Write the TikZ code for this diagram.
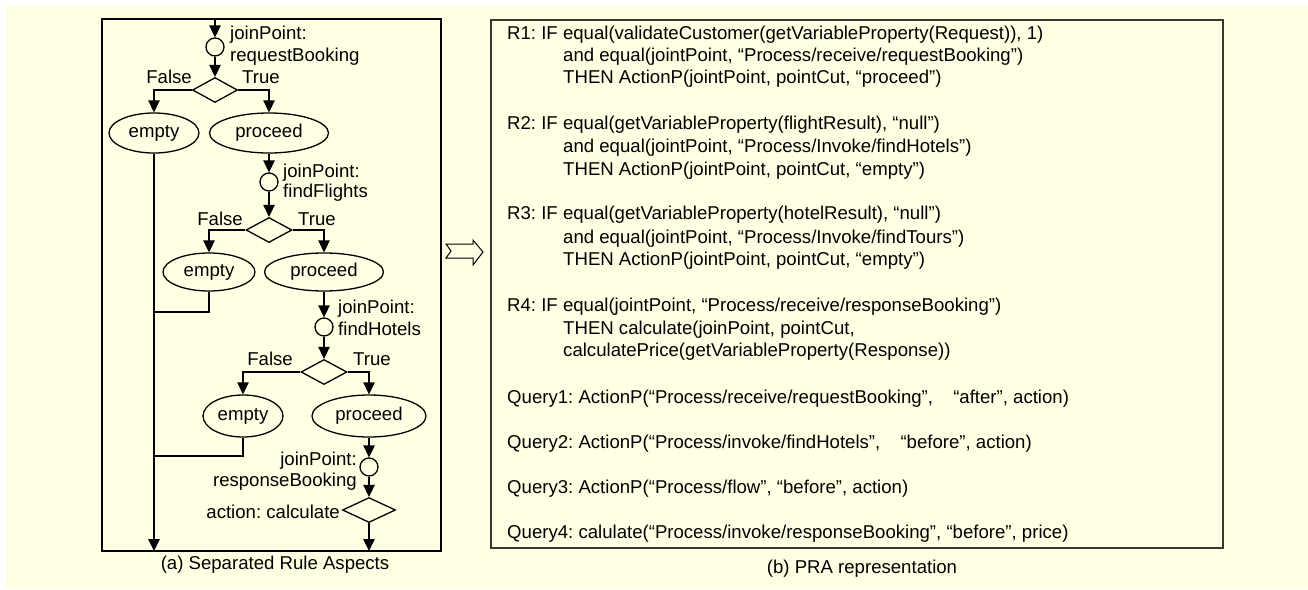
\documentclass[tikz,border=0pt]{standalone}
\usepackage{fontspec}
\setmainfont{Liberation Sans}
\usetikzlibrary{shapes.geometric,arrows.meta}
\definecolor{paper}{RGB}{255,255,227}
\definecolor{frameB}{RGB}{55,55,50}
\frenchspacing
\begin{document}
\begin{tikzpicture}[x=1pt,y=-1pt,
  font=\fontsize{18.6}{22}\selectfont,
  flow/.style={line width=1.3pt,draw=black},
  arr/.style={flow,-{Triangle[length=12pt,width=11.5pt]}},
  jp/.style={circle,draw=black,line width=1.3pt,minimum size=18pt,inner sep=0pt},
  cond/.style={diamond,draw=black,line width=1.3pt,inner sep=0pt},
  outcome/.style={ellipse,draw=black,line width=1.3pt,inner sep=0pt},
  lbl/.style={inner sep=0pt,anchor=base west},
  lblr/.style={inner sep=0pt,anchor=base east},
  rule/.style={inner sep=0pt,anchor=base west}]

% page and background
\useasboundingbox (0,0) rectangle (1308,589);
\fill[white] (0,0) rectangle (1308,589);
\fill[paper] (6,5) rectangle (1308,589);

% ---------- (a) separated rule aspects ----------
\draw[line width=1.5pt] (102,19) rectangle (441,551);

\coordinate (entry) at (215,19);
\node[jp] (c1) at (215,47) {};
\node[cond,minimum width=45pt,minimum height=25pt] (d1) at (215,90) {};
\node[outcome,minimum width=90pt,minimum height=40pt] (e1) at (154,133) {empty};
\node[outcome,minimum width=119pt,minimum height=40pt] (p1) at (269,133) {proceed};

\node[jp] (c2) at (269,182) {};
\node[cond,minimum width=46pt,minimum height=25pt] (d2) at (269,230) {};
\node[outcome,minimum width=92pt,minimum height=38pt] (e2) at (209,272) {empty};
\node[outcome,minimum width=119pt,minimum height=38pt] (p2) at (324,272) {proceed};

\node[jp] (c3) at (324,327) {};
\node[cond,minimum width=46pt,minimum height=25pt] (d3) at (324,372) {};
\node[outcome,minimum width=80pt,minimum height=42pt] (e3) at (243,416) {empty};
\node[outcome,minimum width=114pt,minimum height=42pt] (p3) at (369,416) {proceed};

\node[jp] (c4) at (369,467) {};
\node[cond,minimum width=53pt,minimum height=25pt] (d4) at (369,510) {};

\coordinate (exitR) at (369,551);
\coordinate (exitL) at (154,551);
\coordinate (j2) at (154,312);
\coordinate (j3) at (154,456);

% labels
\node[lbl] (c1a) at (230,39.5) {joinPoint:};
\node[lbl] (c1b) at (230,61.5) {requestBooking};
\node[lbl] (c2a) at (283,177) {joinPoint:};
\node[lbl] (c2b) at (283,197) {findFlights};
\node[lbl] (c3a) at (338,313) {joinPoint:};
\node[lbl] (c3b) at (338,335) {findHotels};
\node[lblr] (c4a) at (357,465) {joinPoint:};
\node[lblr] (c4b) at (357,486) {responseBooking};
\node[lblr] (d4a) at (340,518) {action: calculate};

\node[lblr] (f1) at (192,83) {False};
\node[lbl]  (t1) at (242,83) {True};
\node[lblr] (f2) at (243,225) {False};
\node[lbl]  (t2) at (298,225) {True};
\node[lblr] (f3) at (293,365) {False};
\node[lbl]  (t3) at (353,365) {True};

% connectors
\draw[arr] (entry) -- (c1);
\draw[arr] (c1) -- (d1);
\draw[arr] (d1.west) -| (e1.north);
\draw[arr] (d1.east) -| (p1.north);
\draw[arr] (p1) -- (c2);
\draw[arr] (c2) -- (d2);
\draw[arr] (d2.west) -| (e2.north);
\draw[arr] (d2.east) -| (p2.north);
\draw[arr] (p2) -- (c3);
\draw[arr] (c3) -- (d3);
\draw[arr] (d3.west) -| (e3.north);
\draw[arr] (d3.east) -| (p3.north);
\draw[arr] (p3) -- (c4);
\draw[arr] (c4) -- (d4);
\draw[arr] (d4) -- (exitR);
\draw[arr] (e1) -- (exitL);
\draw[flow] (e2.south) |- (j2);
\draw[flow] (e3.south) |- (j3);

\node[inner sep=0pt,anchor=base] (capA) at (275,569) {(a) Separated Rule Aspects};

% transition arrow between the panels
\draw[line width=1pt,line join=miter] (446,244) -- (473,244) -- (473,240) -- (483,252)
  -- (473,265) -- (473,258) -- (446,258) -- (451,251) -- cycle;

% ---------- (b) PRA representation ----------
\draw[line width=2pt,draw=frameB] (491,20) rectangle (1223,548);

\node[rule] (r1a) at (507,39.5) {R1: IF equal(validateCustomer(getVariableProperty(Request)), 1)};
\node[rule] (r1b) at (563,61.5) {and equal(jointPoint, “Process/receive/requestBooking”)};
\node[rule] (r1c) at (563,83.5) {THEN ActionP(jointPoint, pointCut, “proceed”)};

\node[rule] (r2a) at (507,129) {R2: IF equal(getVariableProperty(flightResult), “null”)};
\node[rule] (r2b) at (563,152) {and equal(jointPoint, “Process/Invoke/findHotels”)};
\node[rule] (r2c) at (563,175) {THEN ActionP(jointPoint, pointCut, “empty”)};

\node[rule] (r3a) at (507,219) {R3: IF equal(getVariableProperty(hotelResult), “null”)};
\node[rule] (r3b) at (563,243) {and equal(jointPoint, “Process/Invoke/findTours”)};
\node[rule] (r3c) at (563,265) {THEN ActionP(jointPoint, pointCut, “empty”)};

\node[rule] (r4a) at (507,311) {R4: IF equal(jointPoint, “Process/receive/responseBooking”)};
\node[rule] (r4b) at (563,334) {THEN calculate(joinPoint, pointCut,};
\node[rule] (r4c) at (563,356) {calculatePrice(getVariableProperty(Response))};

\node[rule] (q1) at (507,403) {Query1: ActionP(“Process/receive/requestBooking”,\hspace{15pt} “after”, action)};
\node[rule] (q2) at (507,448) {Query2: ActionP(“Process/invoke/findHotels”,\hspace{15pt} “before”, action)};
\node[rule] (q3) at (507,493) {Query3: ActionP(“Process/flow”, “before”, action)};
\node[rule] (q4) at (507,538) {Query4: calulate(“Process/invoke/responseBooking”, “before”, price)};

\node[inner sep=0pt,anchor=base] (capB) at (862,573) {(b) PRA representation};
\end{tikzpicture}
\end{document}
